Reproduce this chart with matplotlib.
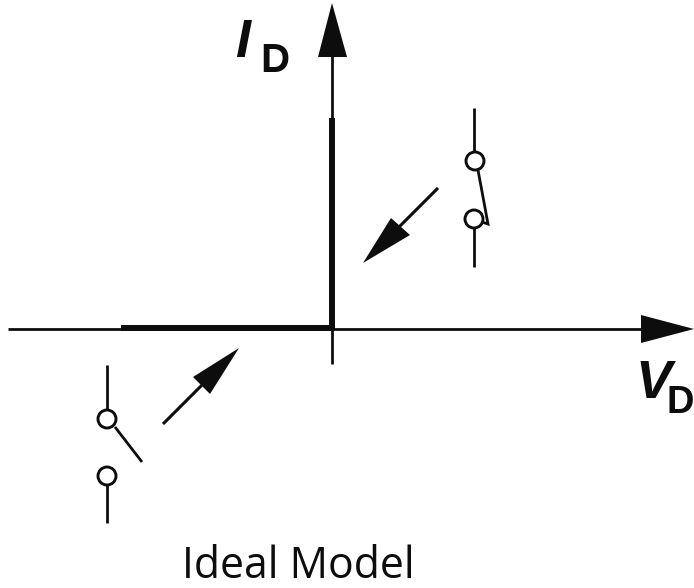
import matplotlib
matplotlib.use("Agg")
import matplotlib.pyplot as plt
from matplotlib.patches import Polygon, Circle

W, H = 694, 588
# Diagram geometry (pixel coordinates)
axis_h = [(8, 329), (645, 329)]
axis_v = [(332, 364), (332, 50)]
on_branch = [(332, 331), (332, 118)]
off_branch = [(335, 328), (121, 328)]
labels = [("I", 235, 57, 'italic', 39), ("D", 260, 72, 'normal', 29),
          ("V", 635, 398, 'italic', 39), ("D", 667, 413, 'normal', 27.5)]
caption = "Ideal Model"

fig = plt.figure(figsize=(W/100, H/100), dpi=100)
ax = fig.add_axes([0, 0, 1, 1])
ax.set_xlim(0, W); ax.set_ylim(H, 0); ax.axis('off')
k = '#0d0d0d'

def line(pts, lw=2.0):
    xs, ys = zip(*pts)
    ax.plot(xs, ys, color=k, lw=lw, solid_capstyle='butt', solid_joinstyle='miter', zorder=2)

line(axis_h); line(axis_v)
line(on_branch, 4.3); line(off_branch, 4.3)
ax.add_patch(Polygon([(694, 329), (641, 315), (641, 343)], color=k, lw=0, zorder=3))
ax.add_patch(Polygon([(332, 3), (318, 57), (347, 57)], color=k, lw=0, zorder=3))

# Arrows
line([(438, 188), (398, 228)], 2.2)
ax.add_patch(Polygon([(363, 263), (391, 218), (410, 235)], color=k, lw=0, zorder=3))
line([(163, 424), (203, 384)], 2.2)
ax.add_patch(Polygon([(239, 348), (193, 377), (210, 394)], color=k, lw=0, zorder=3))

# Closed switch, upper right
line([(474, 108), (474, 152)]); line([(474, 228), (474, 267)])
line([(478, 170), (488, 224), (482, 222)])
# Open switch, lower left
line([(107, 365), (107, 410)]); line([(107, 485), (107, 523)])
line([(115, 427), (142, 462)])
for c in [(475, 161), (474, 219), (107, 419), (107, 476)]:
    ax.add_patch(Circle(c, 9, fc='white', ec=k, lw=2.1, zorder=4))

for s, x, y, st, fs in labels:
    ax.text(x, y, s, fontsize=fs, fontweight='bold', style=st, family='Liberation Sans',
            ha='left', va='baseline', color=k)
ax.text(298, 578, caption, fontsize=30.8, family='Open Sans', ha='center', va='baseline', color='#0d0d0d')
fig.savefig('out.png', dpi=100)
